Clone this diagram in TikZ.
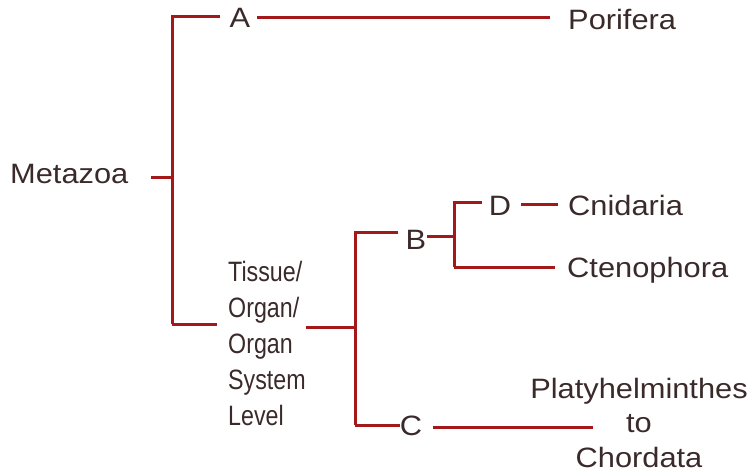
\documentclass[tikz,border=0pt]{standalone}
\usepackage{fontspec}
\setmainfont{Liberation Sans}
\newfontfamily\widefont[FakeStretch=1.1]{Liberation Sans}
\newfontfamily\narrowfont[FakeStretch=0.83]{Liberation Sans}
\definecolor{linec}{HTML}{A31818}
\definecolor{txtc}{HTML}{3B2A2A}
\begin{document}
\begin{tikzpicture}[x=1pt,y=-1pt,
  br/.style={draw=linec, line width=3pt, line join=miter, line cap=butt},
  lbl/.style={text=txtc, font=\widefont\fontsize{28}{34.5}\selectfont, inner sep=0pt},
  lvl/.style={text=txtc, font=\narrowfont\fontsize{28}{36}\selectfont, inner sep=0pt, align=left}]
\useasboundingbox (0,0) rectangle (755,473);
% labels
\node[lbl, anchor=base west] (meta) at (10,184) {Metazoa};
\node[lbl, anchor=base] (A) at (240,28) {A};
\node[lbl, anchor=base west] (por) at (568,30) {Porifera};
\node[lvl, anchor=north west] (tis) at (228,261) {Tissue/\\Organ/\\Organ\\System\\Level};
\node[lbl, anchor=base] (B) at (416,250) {B};
\node[lbl, anchor=base] (C) at (411,435) {C};
\node[lbl, anchor=base] (D) at (500,215) {D};
\node[lbl, anchor=base west] (cni) at (568,215) {Cnidaria};
\node[lbl, anchor=base west] (cte) at (567,277) {Ctenophora};
\node[lbl, anchor=north, align=center] (pla) at (639,378) {Platyhelminthes\\to\\Chordata};
% junctions
\coordinate (root) at (172,178);
\coordinate (top) at (172,17);
\coordinate (bot) at (172,324);
\coordinate (j2) at (355,327);
\coordinate (j2t) at (355,233);
\coordinate (j2b) at (355,425);
\coordinate (j3) at (454,237);
\coordinate (j3t) at (454,203);
\coordinate (j3b) at (454,267);
\coordinate (cEnd) at (593,427);
% connectors
\draw[br, shorten >=22pt] (root) -- (root -| meta.east);
\draw[br, shorten >=10pt] (bot) -- (top) -- (top -| A.west);
\draw[br, shorten <=7pt, shorten >=18pt] (A.east |- 0,18) -- (por.west |- 0,18);
\draw[br, shorten >=11pt] (bot) -- (bot -| tis.west);
\draw[br] (tis.east |- j2) -- (j2);
\draw[br, shorten >=8pt] (j2b) -- (j2t) -- (j2t -| B.west);
\draw[br] (j2b) -- (j2b -| C.west);
\draw[br, shorten <=1pt] (B.east |- j3) -- (j3);
\draw[br, shorten >=7pt] (j3b) -- (j3t) -- (j3t -| D.west);
\draw[br, shorten <=10pt, shorten >=10pt] (D.east |- 0,205) -- (cni.west |- 0,205);
\draw[br, shorten >=12pt] (j3b) -- (j3b -| cte.west);
\draw[br, shorten <=11pt] (cEnd -| C.east) -- (cEnd);
\end{tikzpicture}
\end{document}
